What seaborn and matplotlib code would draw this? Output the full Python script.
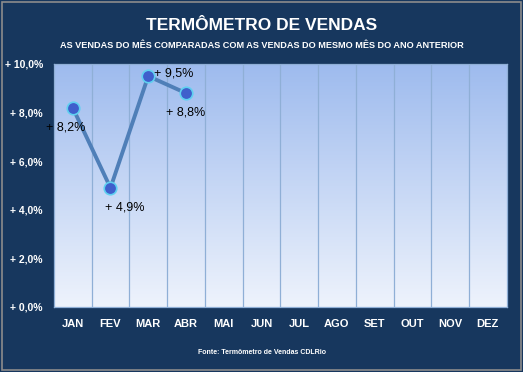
import numpy as np
import pandas as pd
import matplotlib.pyplot as plt
import seaborn as sns
from matplotlib.patches import Rectangle
from matplotlib.colors import LinearSegmentedColormap
from matplotlib import font_manager

months = ["JAN", "FEV", "MAR", "ABR", "MAI", "JUN", "JUL", "AGO", "SET", "OUT", "NOV", "DEZ"]
values = [8.2, 4.9, 9.5, 8.8]
value_labels = ["+ 8,2%", "+ 4,9%", "+ 9,5%", "+ 8,8%"]
y_ticks = [0, 2, 4, 6, 8, 10]
y_tick_labels = ["+ 0,0%", "+ 2,0%", "+ 4,0%", "+ 6,0%", "+ 8,0%", "+ 10,0%"]

NAVY = "#17375E"

sns.set_theme(style="white")
names = {f.name for f in font_manager.fontManager.ttflist}
narrow = "Liberation Sans Narrow" if "Liberation Sans Narrow" in names else "Liberation Sans"
plt.rcParams["font.family"] = [narrow, "DejaVu Sans"]

fig = plt.figure(figsize=(5.23, 3.72), dpi=100, facecolor=NAVY)
fig.patches.append(Rectangle((0.004, 0.005), 0.992, 0.99, transform=fig.transFigure,
                             fill=False, edgecolor="#8C8C8C", linewidth=1.2))
ax = fig.add_axes([0.103, 0.175, 0.866, 0.653])

# gradient background of the plot area
grad = LinearSegmentedColormap.from_list("bg", ["#EEF3FC", "#9EBBEE"])
ax.imshow(np.linspace(0, 1, 256).reshape(-1, 1), cmap=grad, origin="lower",
          extent=[-0.5, 11.5, 0, 10], aspect="auto", zorder=0)

df = pd.DataFrame({"mes": list(range(len(values))), "valor": values})
sns.lineplot(data=df, x="mes", y="valor", ax=ax, color="#4F7FB8", linewidth=2.8,
             marker="o", markersize=9, markerfacecolor="#3F5FCC",
             markeredgecolor="#5FD0F0", markeredgewidth=1.2, zorder=3)

offsets = [(-5, -14), (-4, -14), (4, 2), (0, -14)]
has = ["center", "left", "left", "center"]
for i, (v, lab) in enumerate(zip(values, value_labels)):
    dx, dy = offsets[i]
    ax.annotate(lab, (i, v), xytext=(dx, dy), textcoords="offset points",
                ha=has[i], va="center", fontsize=9, color="black", zorder=4)

ax.set_xlim(-0.5, 11.5)
ax.set_ylim(0, 10)
for x in np.arange(0.5, 11.5, 1):
    ax.axvline(x, color="#8FAFD6", linewidth=0.9, zorder=1)

ax.set_xticks(range(12))
ax.set_xticklabels(months, color="white", fontsize=8, fontweight="bold")
ax.set_yticks(y_ticks)
ax.set_yticklabels(y_tick_labels, color="white", fontsize=7.5, fontweight="bold")
ax.tick_params(axis="x", length=0, pad=9)
ax.tick_params(axis="y", length=0, pad=8)
ax.set_xlabel("")
ax.set_ylabel("")
for s in ax.spines.values():
    s.set_edgecolor("#8FAFD6")
    s.set_linewidth(0.9)

fig.text(0.5, 0.932, "TERMÔMETRO DE VENDAS", ha="center", va="center",
         color="white", fontsize=12.5, fontweight="bold")
fig.text(0.5, 0.878, "AS VENDAS DO MÊS COMPARADAS COM AS VENDAS DO MESMO MÊS DO ANO ANTERIOR",
         ha="center", va="center", color="white", fontsize=6.6, fontweight="bold")
fig.text(0.5, 0.053, "Fonte: Termômetro de Vendas CDLRio", ha="center", va="center",
         color="white", fontsize=5, fontweight="bold")

fig.savefig("out.png", dpi=100, facecolor=NAVY)
